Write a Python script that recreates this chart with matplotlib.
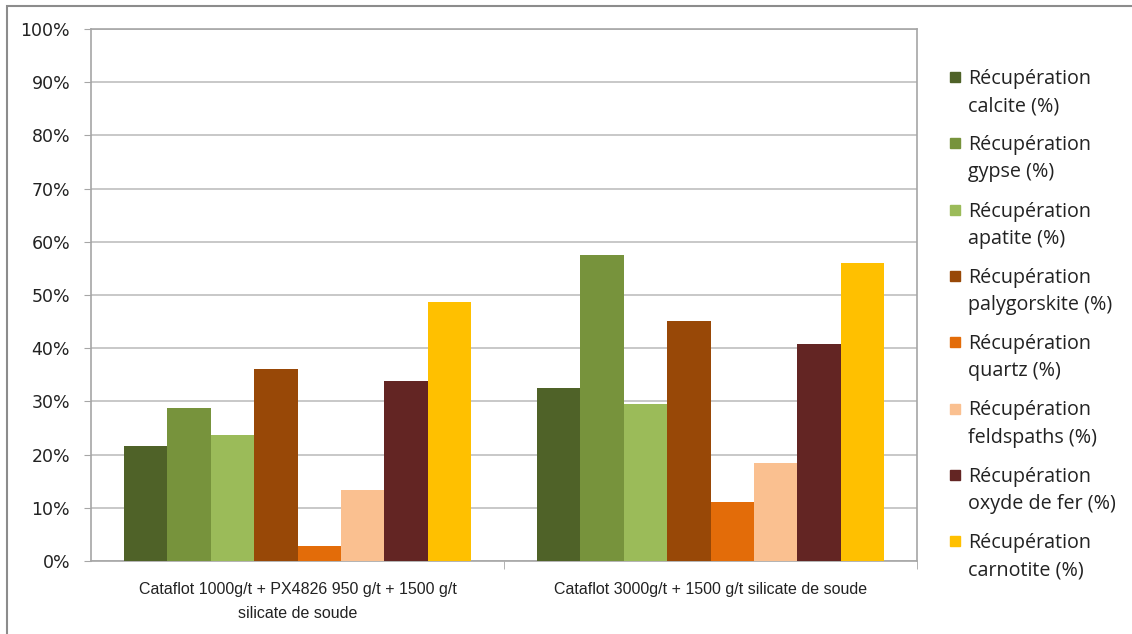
import numpy as np
import matplotlib.pyplot as plt
from matplotlib.patches import Rectangle
from matplotlib.ticker import PercentFormatter

categories = ["Cataflot 1000g/t + PX4826 950 g/t + 1500 g/t\nsilicate de soude",
              "Cataflot 3000g/t + 1500 g/t silicate de soude"]
series = ["Récupération\ncalcite (%)", "Récupération\ngypse (%)", "Récupération\napatite (%)",
          "Récupération\npalygorskite (%)", "Récupération\nquartz (%)", "Récupération\nfeldspaths (%)",
          "Récupération\noxyde de fer (%)", "Récupération\ncarnotite (%)"]
calcite = [0.217, 0.325]
gypse = [0.287, 0.575]
apatite = [0.237, 0.296]
palygorskite = [0.360, 0.451]
quartz = [0.028, 0.110]
feldspaths = [0.133, 0.184]
oxyde_fer = [0.338, 0.407]
carnotite = [0.486, 0.561]
values = [calcite, gypse, apatite, palygorskite, quartz, feldspaths, oxyde_fer, carnotite]
colors = ["#4F6228", "#77933C", "#9BBB59", "#984807", "#E36C09", "#FAC090", "#632523", "#FFC000"]

W, H = 1132, 634
fig = plt.figure(figsize=(W / 100, H / 100), dpi=100)
ax = fig.add_axes([91 / W, 1 - 561 / H, 826 / W, 532 / H])

n = len(values)
bw = 1 / (n + 1.5)
x = np.arange(len(categories))
for i, (vals, col) in enumerate(zip(values, colors)):
    ax.bar(x + (i - (n - 1) / 2) * bw, vals, bw, color=col, zorder=3)

ax.set_xlim(-0.5, len(categories) - 0.5)
ax.set_ylim(0, 1)
ax.set_yticks(np.arange(0, 1.01, 0.1))
ax.yaxis.set_major_formatter(PercentFormatter(1.0, decimals=0))
ax.grid(axis="y", color="#BFBFBF", linewidth=1.2, zorder=0)
for s in ax.spines.values():
    s.set_color("#A6A6A6")
    s.set_linewidth(1.2)
ax.tick_params(axis="y", length=5, color="#A6A6A6", labelsize=12.5, pad=10, labelcolor="#222222")
ax.set_xticks(x)
ax.set_xticklabels(categories, fontsize=11.5, fontfamily="Liberation Sans",
                   linespacing=1.75, color="#222222")
ax.tick_params(axis="x", length=0, pad=15)
ax.set_xticks([0.5, 1.5], minor=True)
ax.tick_params(axis="x", which="minor", length=6, color="#A6A6A6")

# legend drawn by hand so the square sits on the first text line
for i, (lab, col) in enumerate(zip(series, colors)):
    yline = 77 + i * 66.3
    fig.patches.append(Rectangle((950 / W, 1 - (yline + 5) / H), 10 / W, 10 / H,
                                 transform=fig.transFigure, color=col))
    fig.text(968 / W, 1 - (yline - 8) / H, lab, fontsize=14.2, ha="left", va="top",
             linespacing=1.48, color="#222222", fontfamily="Open Sans")

fig.patches.append(Rectangle((7 / W, -0.1), 1.2, (1 - 6 / H) + 0.1, transform=fig.transFigure,
                             fill=False, edgecolor="#8C8C8C", linewidth=1.5))

fig.savefig("out.png", dpi=100)
